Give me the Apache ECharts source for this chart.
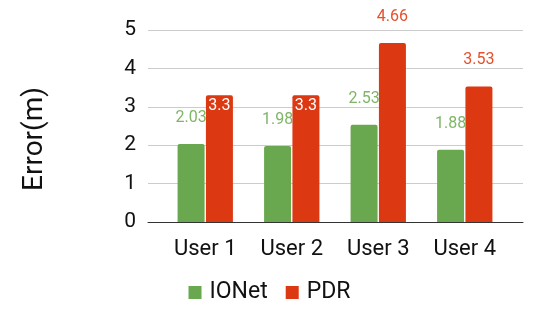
<!DOCTYPE html>
<html>
<head>
<meta charset="utf-8">
<script src="https://cdn.jsdelivr.net/npm/echarts@6/dist/echarts.min.js"></script>
<style>html,body{margin:0;padding:0;background:#fff}#c{width:539px;height:319px}</style>
</head>
<body>
<div id="c"></div>
<script>
var categories = ['User 1', 'User 2', 'User 3', 'User 4'];
var ionet = [2.03, 1.98, 2.53, 1.88];
var pdr = [3.3, 3.3, 4.66, 3.53];
var pdrInside = [true, true, false, false];
var yTicks = [0, 1, 2, 3, 4, 5];

var FONT = 'Roboto';
var GREEN = '#6aa84f';
var RED = '#dc3912';

var chart = echarts.init(document.getElementById('c'), null, {renderer: 'canvas'});
var option = {
  animation: false,
  textStyle: {fontFamily: FONT},
  grid: [
    {left: 148, right: 16, top: 30, bottom: 97},
    {left: 162, right: 31, top: 30, bottom: 97}
  ],
  xAxis: [
    {gridIndex: 0, type: 'value', min: 0, max: 1,
     axisLine: {show: true, lineStyle: {color: '#333', width: 1}},
     axisTick: {show: false}, axisLabel: {show: false}, splitLine: {show: false}},
    {gridIndex: 1, type: 'category', data: categories,
     axisLine: {show: false}, axisTick: {show: false},
     axisLabel: {color: '#111', fontSize: 22, margin: 16, fontFamily: FONT}}
  ],
  yAxis: [
    {gridIndex: 0, type: 'value', min: yTicks[0], max: yTicks[yTicks.length - 1], interval: 1,
     axisLine: {show: false}, axisTick: {show: false},
     axisLabel: {color: '#111', fontSize: 21, margin: 12, fontFamily: FONT},
     splitLine: {lineStyle: {color: '#cccccc', width: 1}}},
    {gridIndex: 1, type: 'value', min: yTicks[0], max: yTicks[yTicks.length - 1], interval: 1,
     show: false}
  ],
  legend: {
    data: ['IONet', 'PDR'],
    left: 'center', top: 276,
    icon: 'rect', itemWidth: 13, itemHeight: 13, itemGap: 18, itemStyle: {borderWidth: 0},
    textStyle: {fontSize: 23, color: '#111', fontFamily: FONT, padding: [0, 0, 0, 3]}
  },
  graphic: [{
    type: 'text', x: 35, y: 139, rotation: Math.PI / 2,
    style: {text: 'Error(m)', fontSize: 28, fontFamily: FONT, fill: '#111',
            align: 'center', verticalAlign: 'middle'}
  }],
  series: [
    {name: 'IONet', type: 'bar', xAxisIndex: 1, yAxisIndex: 1,
     data: ionet, barWidth: 27, barGap: '5%',
     itemStyle: {color: GREEN, borderRadius: [2, 2, 0, 0]},
     label: {show: true, position: 'top', distance: 18, color: '#7fb567', fontSize: 16, fontFamily: FONT}},
    {name: 'PDR', type: 'bar', xAxisIndex: 1, yAxisIndex: 1,
     data: pdr.map(function (v, i) {
       return pdrInside[i]
         ? {value: v, label: {position: 'insideTop', distance: 3, color: '#ffffff'}}
         : {value: v};
     }),
     barWidth: 27,
     itemStyle: {color: RED, borderRadius: [2, 2, 0, 0]},
     label: {show: true, position: 'top', distance: 18, color: '#e4502c', fontSize: 16, fontFamily: FONT}}
  ]
};
chart.setOption(option);
</script>
</body>
</html>
